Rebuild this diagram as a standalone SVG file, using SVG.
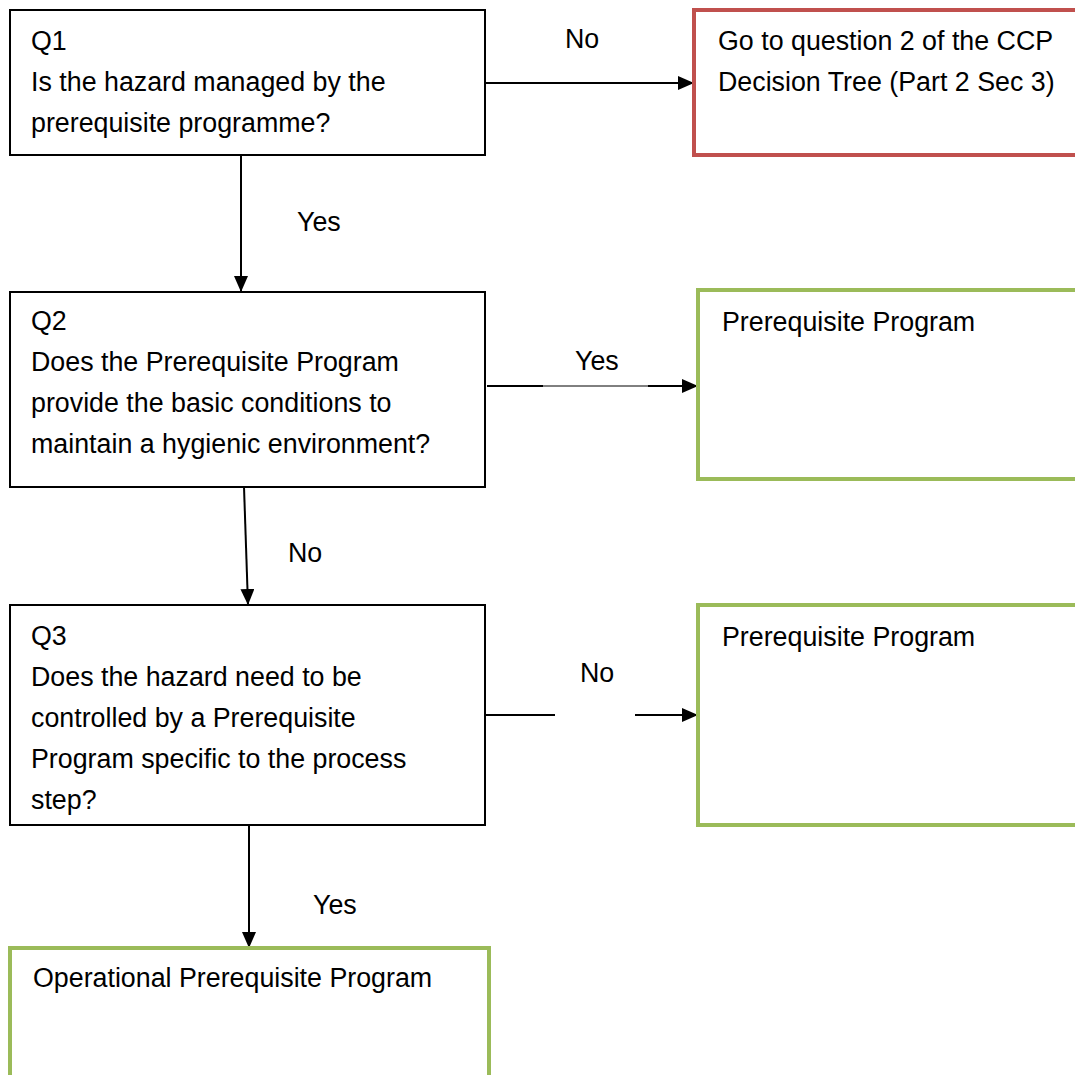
<svg xmlns="http://www.w3.org/2000/svg" width="1075" height="1075" viewBox="0 0 1075 1075">
<style>
.q{fill:#fff;stroke:#000;stroke-width:2}
.r{fill:#fff;stroke:#C0504D;stroke-width:4}
.g{fill:#fff;stroke:#9BBB59;stroke-width:4}
text{font-family:"Liberation Sans",Arial,sans-serif;font-size:26.8px;fill:#000}
.c{stroke:#000;stroke-width:2;fill:none}
.t{stroke:#000;stroke-width:1;fill:none}
</style>
<defs>
<marker id="ah" viewBox="0 0 16 14" refX="16" refY="7" markerWidth="16" markerHeight="14" markerUnits="userSpaceOnUse" orient="auto">
<path d="M0,0 L16,7 L0,14 Z" fill="#000"/>
</marker>
</defs>
<rect width="1075" height="1075" fill="#fff"/>
<g id="connectors">
<line class="c" x1="485" y1="83" x2="694" y2="83" marker-end="url(#ah)"/>
<line class="c" x1="241" y1="155" x2="241" y2="292" marker-end="url(#ah)"/>
<line class="c" x1="487" y1="386" x2="543" y2="386"/>
<line class="t" x1="543" y1="386" x2="648" y2="386"/>
<line class="c" x1="648" y1="386" x2="698" y2="386" marker-end="url(#ah)"/>
<line class="c" x1="244" y1="487" x2="248" y2="605" marker-end="url(#ah)"/>
<line class="c" x1="485" y1="715" x2="555" y2="715"/>
<line class="c" x1="635" y1="715" x2="698" y2="715" marker-end="url(#ah)"/>
<line class="c" x1="249" y1="825" x2="249" y2="948" marker-end="url(#ah)"/>
<text x="565" y="48">No</text>
<text x="297" y="231">Yes</text>
<text x="575" y="370">Yes</text>
<text x="288" y="562">No</text>
<text x="580" y="682">No</text>
<text x="313" y="914">Yes</text>
</g>
<g id="q1">
<rect class="q" x="10" y="10" width="475" height="145"/>
<text x="31" y="50">Q1</text>
<text x="31" y="91">Is the hazard managed by the</text>
<text x="31" y="132">prerequisite programme?</text>
</g>
<g id="ccp">
<rect class="r" x="694" y="10" width="400" height="145"/>
<text x="718" y="50">Go to question 2 of the CCP</text>
<text x="718" y="91">Decision Tree (Part 2 Sec 3)</text>
</g>
<g id="q2">
<rect class="q" x="10" y="292" width="475" height="195"/>
<text x="31" y="330">Q2</text>
<text x="31" y="371">Does the Prerequisite Program</text>
<text x="31" y="412">provide the basic conditions to</text>
<text x="31" y="453">maintain a hygienic environment?</text>
</g>
<g id="prp1">
<rect class="g" x="698" y="290" width="400" height="189"/>
<text x="722" y="331">Prerequisite Program</text>
</g>
<g id="q3">
<rect class="q" x="10" y="605" width="475" height="220"/>
<text x="31" y="645">Q3</text>
<text x="31" y="686">Does the hazard need to be</text>
<text x="31" y="727">controlled by a Prerequisite</text>
<text x="31" y="768">Program specific to the process</text>
<text x="31" y="809">step?</text>
</g>
<g id="prp2">
<rect class="g" x="698" y="605" width="400" height="220"/>
<text x="722" y="646">Prerequisite Program</text>
</g>
<g id="oprp">
<rect class="g" x="10" y="948" width="479" height="150"/>
<text x="33" y="987">Operational Prerequisite Program</text>
</g>
</svg>
